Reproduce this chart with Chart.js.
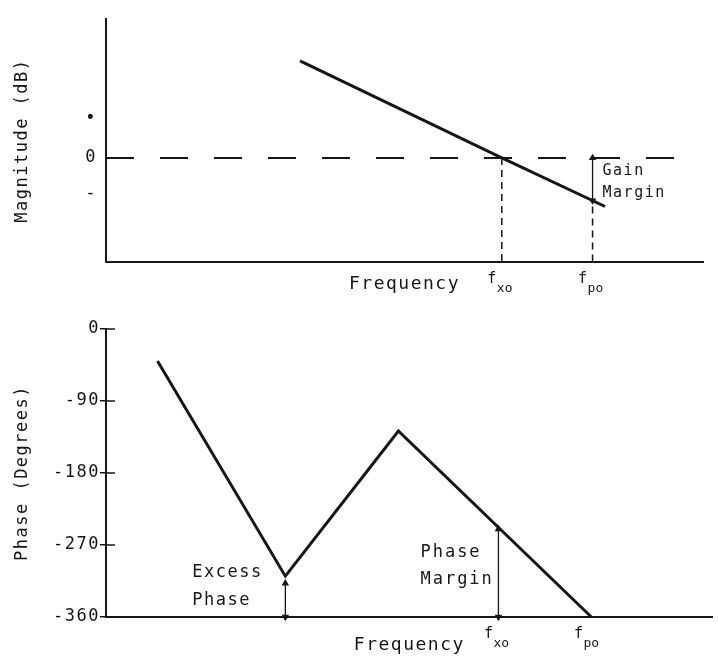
<!DOCTYPE html>
<html>
<head>
<meta charset="utf-8">
<title>Gain and phase margin</title>
<script src="https://cdn.jsdelivr.net/npm/chart.js@4.4.1/dist/chart.umd.min.js"></script>
<style>
  html, body { margin: 0; padding: 0; background: #fff; }
  canvas { display: block; }
</style>
</head>
<body>
<canvas id="mag" width="718" height="300"></canvas>
<canvas id="phase" width="718" height="359"></canvas>
<script>
// frequency has no numbers on the original, so it runs 0..100 in plain units
const magFreq = [32.5, 66.3, 83.6];
const magDb = [9.8, 0, -4.9];
const phaseFreq = [8.7, 30.3, 49.4, 82.0];
const phaseDeg = [-40, -309, -127.5, -360];

const fxo = 66.3;
const fpo = 81.5;
const gainMargin = 4.3;    // dB under the 0 line at fpo
const phaseMargin = 110;   // degrees over -360 at fxo
const excessPhase = 42;    // arrow under the dip

const magTicks = [4, 0, -3.6];
const magTickLabels = ['•', '0', '-'];
const freqMarks = [fxo, fpo];
const freqMarkSubs = ['xo', 'po'];

const MONO = "'DejaVu Sans Mono', monospace";
const INK = '#161616';

const spacing = {
  id: 'spacing',
  beforeUpdate(chart) { chart.ctx.letterSpacing = '1.5px'; },
  beforeDraw(chart) { chart.ctx.letterSpacing = '1.5px'; }
};

// text notes and the f_xo / f_po marks under the axis
const notes = {
  id: 'notes',
  afterDatasetsDraw(chart, args, opts) {
    const { ctx } = chart;
    const xs = chart.scales.x, ys = chart.scales.y;
    ctx.save();
    ctx.fillStyle = INK;
    ctx.textBaseline = 'middle';
    ctx.textAlign = 'left';
    (opts.items || []).forEach(n => {
      const px = xs.getPixelForValue(n.x), py = ys.getPixelForValue(n.y);
      ctx.font = n.size + 'px ' + MONO;
      ctx.letterSpacing = n.spacing + 'px';
      n.lines.forEach((line, i) => ctx.fillText(line, px + n.dx, py + n.dy[i]));
    });
    ctx.letterSpacing = '0px';
    freqMarks.forEach((f, i) => {
      const px = xs.getPixelForValue(f);
      ctx.font = '15px ' + MONO;
      ctx.textAlign = 'center';
      ctx.fillText('f', px - 10, xs.top + 17);
      ctx.font = '13px ' + MONO;
      ctx.textAlign = 'left';
      ctx.fillText(freqMarkSubs[i], px - 5, xs.top + 27);
    });
    ctx.restore();
  }
};

// phase ticks cross the axis a little into the plot
const innerTicks = {
  id: 'innerTicks',
  afterDraw(chart) {
    const ys = chart.scales.y;
    const { ctx, chartArea } = chart;
    ctx.save();
    ctx.strokeStyle = INK;
    ctx.lineWidth = 1.5;
    ys.ticks.forEach((t, i) => {
      const py = ys.getPixelForTick(i);
      ctx.beginPath();
      ctx.moveTo(chartArea.left, py);
      ctx.lineTo(chartArea.left + 9, py);
      ctx.stroke();
    });
    ctx.restore();
  }
};

const line = (data, extra) => Object.assign({
  data, borderColor: INK, backgroundColor: INK, borderWidth: 1.5,
  pointRadius: 0, tension: 0, fill: false, clip: false
}, extra);

const arrow = (x, yTop, yBottom) => line([{ x, y: yTop }, { x, y: yBottom }], {
  borderWidth: 1.3, pointStyle: 'triangle', pointRadius: 3, pointRotation: [0, 180]
});

const axisTitle = (text, size, padding) => ({
  display: true, text, color: INK, font: { family: MONO, size }, padding
});

const magMin = -10.5;

new Chart(document.getElementById('mag'), {
  type: 'line',
  data: {
    datasets: [
      line(magFreq.map((f, i) => ({ x: f, y: magDb[i] })), { borderWidth: 3 }),
      line([{ x: 0, y: 0 }, { x: 96.5, y: 0 }], { borderWidth: 2, borderDash: [28, 26] }),
      line([{ x: fxo, y: 0 }, { x: fxo, y: magMin }], { borderDash: [7, 5] }),
      line([{ x: fpo, y: -gainMargin - 0.6 }, { x: fpo, y: magMin }], { borderDash: [7, 5] }),
      arrow(fpo, 0, -gainMargin)
    ]
  },
  options: {
    responsive: false,
    animation: false,
    events: [],
    layout: { padding: { top: 17, right: 15, bottom: 0, left: 0 } },
    plugins: {
      legend: { display: false },
      tooltip: { enabled: false },
      notes: { items: [{ x: fpo, y: 0, dx: 10, dy: [13, 35], lines: ['Gain', 'Margin'], size: 15, spacing: 1.5 }] }
    },
    scales: {
      x: {
        type: 'linear', min: 0, max: 100,
        grid: { display: false },
        border: { color: INK, width: 2 },
        ticks: { display: false },
        title: axisTitle('Frequency', 18, { top: 0, bottom: 5 }),
        afterFit(s) { s.height = 38; }
      },
      y: {
        min: magMin, max: 14,
        afterBuildTicks(s) { s.ticks = magTicks.map(v => ({ value: v })); },
        ticks: { color: INK, font: { family: MONO, size: 17 }, padding: 9, callback: (v, i) => magTickLabels[i] },
        grid: { display: false, drawTicks: false },
        border: { color: INK, width: 2 },
        title: axisTitle('Magnitude (dB)', 17, { top: 12, bottom: 0 }),
        afterFit(s) { s.width = 106; }
      }
    }
  },
  plugins: [spacing, notes]
});

new Chart(document.getElementById('phase'), {
  type: 'line',
  data: {
    datasets: [
      line(phaseFreq.map((f, i) => ({ x: f, y: phaseDeg[i] })), { borderWidth: 3 }),
      arrow(fxo, -360 + phaseMargin, -360),
      arrow(phaseFreq[1], -360 + excessPhase, -360)
    ]
  },
  options: {
    responsive: false,
    animation: false,
    events: [],
    layout: { padding: { top: 29, right: 0, bottom: 0, left: 0 } },
    plugins: {
      legend: { display: false },
      tooltip: { enabled: false },
      notes: {
        items: [
          { x: phaseFreq[1], y: -360, dx: -93, dy: [-44, -16], lines: ['Excess', 'Phase'], size: 17, spacing: 1.5 },
          { x: fxo, y: -360, dx: -78, dy: [-64, -37], lines: ['Phase', 'Margin'], size: 17, spacing: 2 }
        ]
      }
    },
    scales: {
      x: {
        type: 'linear', min: 0, max: 102.5,
        grid: { display: false },
        border: { color: INK, width: 2 },
        ticks: { display: false },
        title: axisTitle('Frequency', 18, { top: 0, bottom: 3 }),
        afterFit(s) { s.height = 42; }
      },
      y: {
        min: -360, max: 0,
        ticks: { stepSize: 90, color: INK, font: { family: MONO, size: 17 }, padding: 0 },
        grid: { drawOnChartArea: false, drawTicks: true, tickLength: 6, color: INK, lineWidth: 1.5 },
        border: { color: INK, width: 2 },
        title: axisTitle('Phase (Degrees)', 17, { top: 12, bottom: 0 }),
        afterFit(s) { s.width = 106; }
      }
    }
  },
  plugins: [spacing, notes, innerTicks]
});
</script>
</body>
</html>
